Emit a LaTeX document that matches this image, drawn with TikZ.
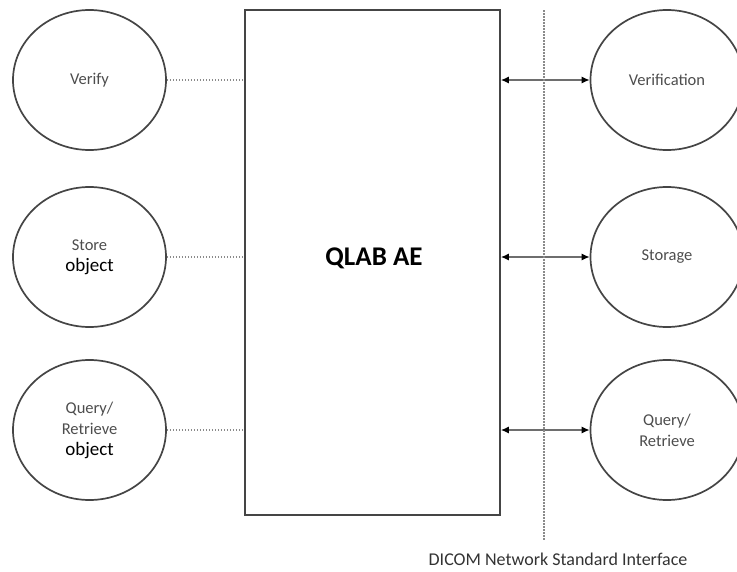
\documentclass[tikz,border=0pt]{standalone}
\usepackage{fontspec}
\setmainfont{Carlito}
\usetikzlibrary{shapes.geometric,arrows.meta}
\definecolor{lbl}{HTML}{4D4D4D}
\definecolor{edge}{HTML}{454545}
\definecolor{dotc}{HTML}{8A8A8A}
\tikzset{
  oval/.style={ellipse, draw=edge, line width=1.7pt, minimum width=153pt, minimum height=140pt, inner sep=0pt, align=center, text=lbl, font=\fontsize{16.5}{21}\selectfont},
  aebox/.style={draw=edge, line width=1.7pt, inner sep=0pt},
  dotline/.style={draw=dotc, line width=1.2pt, dash pattern=on 1.5pt off 1.5pt},
  dualarrow/.style={draw=dotc!80!black, line width=1.3pt, {Latex[length=8pt,width=7pt,black]}-{Latex[length=8pt,width=7pt,black]}}
}
\newcommand{\objword}{{\color{black}\fontsize{19}{22}\selectfont object}}
\begin{document}
\begin{tikzpicture}[x=1pt,y=-1pt]
\useasboundingbox (0,0) rectangle (737,571);
\clip (0,0) rectangle (737,571);
% central box
\node[aebox, minimum width=255pt, minimum height=505pt] (ae) at (372.5,262.5) {};
\node[font=\fontsize{27}{30}\selectfont\bfseries] (aetxt) at (374,258) {QLAB AE};
% left ellipses
\node[oval] (l1) at (89.5,80) {Verify};
\node[oval] (l2) at (89.5,257) {Store\\\objword};
\node[oval] (l3) at (89.5,430) {Query/\\Retrieve\\\objword};
% right ellipses
\node[oval] (r1) at (667,80) {Verification};
\node[oval] (r2) at (667,257) {Storage};
\node[oval] (r3) at (667,430) {Query/\\Retrieve};
% left dotted connectors
\draw[dotline] (l1.east) -- (l1.east -| ae.west);
\draw[dotline] (l2.east) -- (l2.east -| ae.west);
\draw[dotline] (l3.east) -- (l3.east -| ae.west);
% right arrows
\draw[dualarrow] (r1.west -| ae.east) -- (r1.west);
\draw[dualarrow] (r2.west -| ae.east) -- (r2.west);
\draw[dualarrow] (r3.west -| ae.east) -- (r3.west);
% interface line
\coordinate (itop) at (544,10);
\coordinate (ibot) at (544,540);
\draw[dotline] (itop) -- (ibot);
\node[text=black!80, font=\fontsize{18}{21}\selectfont] (dicom) at (558,559) {DICOM Network Standard Interface};
\end{tikzpicture}
\end{document}
